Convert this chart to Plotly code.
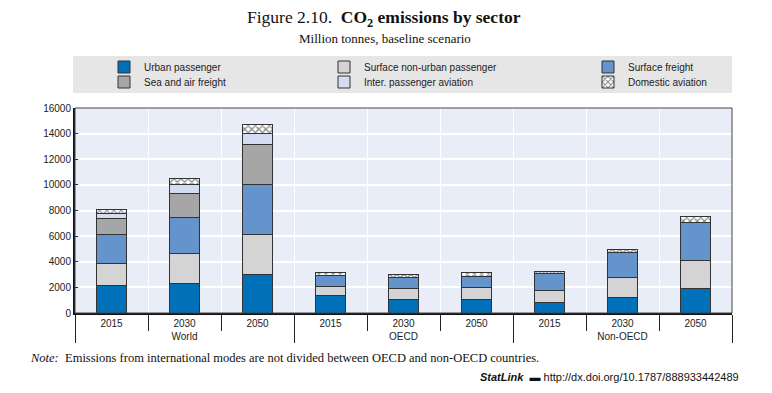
import plotly.graph_objects as go

groups = ["World"] * 3 + ["OECD"] * 3 + ["Non-OECD"] * 3
years = ["2015", "2030", "2050"] * 3

urban_passenger = [2170, 2300, 3000, 1360, 1050, 1040, 810, 1200, 1910]
surface_non_urban = [1690, 2350, 3140, 730, 860, 950, 970, 1540, 2210]
surface_freight = [2280, 2820, 3860, 860, 860, 880, 1300, 1950, 2950]
sea_air_freight = [1200, 1880, 3130, None, None, None, None, None, None]
inter_passenger_aviation = [440, 650, 870, None, None, None, None, None, None]
domestic_aviation = [310, 520, 700, 250, 250, 290, 180, 290, 440]

y_ticks = [0, 2000, 4000, 6000, 8000, 10000, 12000, 14000, 16000]

SANS = "Liberation Sans, Arial, sans-serif"
SERIF = "Liberation Serif, Times New Roman, serif"
LINE = dict(color="#333333", width=1)

W, H = 772, 393
L, R, T, B = 75, 40, 108, 80
pw, ph = W - L - R, H - T - B


def px(xp):
    return (xp - L) / pw


def py(yp):
    return (H - B - yp) / ph


# (name, values, colour, pattern, legend id, legend x px, legend y px)
series = [
    ("Urban passenger", urban_passenger, "#0070b8", None, "legend", 104, 67),
    ("Surface non-urban passenger", surface_non_urban, "#d4d4d4", None, "legend2", 324, 67),
    ("Surface freight", surface_freight, "#6593cc", None, "legend3", 588, 67),
    ("Sea and air freight", sea_air_freight, "#a6a6a6", None, "legend4", 104, 82),
    ("Inter. passenger aviation", inter_passenger_aviation, "#d3dcf0", None, "legend5", 324, 82),
    ("Domestic aviation", domestic_aviation, "#ffffff", "x", "legend6", 588, 82),
]

fig = go.Figure()
legends = {}
for name, vals, color, pattern, lg, lx, ly in series:
    marker = dict(color=color, line=LINE)
    if pattern:
        marker["pattern"] = dict(shape=pattern, fgcolor="#111111", bgcolor="#ffffff",
                                 size=5, solidity=0.45)
    fig.add_trace(go.Bar(x=[groups, years], y=vals, name=name, marker=marker, legend=lg))
    legends[lg] = dict(orientation="v", bgcolor="rgba(0,0,0,0)", yanchor="middle", xanchor="left",
                       x=px(lx), y=py(ly), font=dict(family=SANS, size=10, color="#222222"),
                       itemwidth=30)

fig.update_layout(
    width=W, height=H,
    margin=dict(l=L, r=R, t=T, b=B),
    paper_bgcolor="white",
    plot_bgcolor="#e9edf7",
    barmode="stack",
    bargap=0.59,
    showlegend=True,
    font=dict(family=SANS, size=10, color="#222222"),
    xaxis=dict(
        type="multicategory",
        tickson="boundaries",
        ticks="outside",
        ticklen=16,
        tickcolor="#222222",
        showdividers=True,
        dividercolor="#222222",
        dividerwidth=1,
        showgrid=True,
        gridcolor="white",
        gridwidth=1,
        showline=True,
        linecolor="#111111",
        linewidth=2,
        tickfont=dict(family=SANS, size=10, color="#222222"),
    ),
    yaxis=dict(
        range=[0, 16000],
        tickvals=y_ticks,
        ticktext=[str(v) for v in y_ticks],
        showgrid=True,
        gridcolor="white",
        gridwidth=1.5,
        zeroline=False,
        showline=True,
        linecolor="#111111",
        linewidth=2,
        ticks="inside",
        ticklen=3,
        tickcolor="#222222",
        tickfont=dict(family=SANS, size=10, color="#222222"),
    ),
    shapes=[
        dict(type="rect", xref="paper", yref="paper", x0=px(73), x1=px(732), y0=py(93), y1=py(56),
             fillcolor="#e6e6e6", line=dict(width=0), layer="below"),
        dict(type="rect", xref="paper", yref="paper", x0=0, x1=1, y0=0, y1=1,
             fillcolor="rgba(0,0,0,0)", line=dict(color="#444444", width=1), layer="above"),
    ],
    annotations=[
        dict(text="Figure 2.10.  <b>CO<sub>2</sub> emissions by sector</b>", xref="paper", yref="paper",
             x=px(384), y=py(18), xanchor="center", yanchor="middle", showarrow=False,
             font=dict(family=SERIF, size=17.5, color="#111111")),
        dict(text="Million tonnes, baseline scenario", xref="paper", yref="paper",
             x=px(385), y=py(39), xanchor="center", yanchor="middle", showarrow=False,
             font=dict(family=SERIF, size=13, color="#111111")),
        dict(text="<i>Note:</i>  Emissions from international modes are not divided between OECD and non-OECD countries.",
             xref="paper", yref="paper", x=px(28), y=py(358), xanchor="left", yanchor="middle",
             showarrow=False, font=dict(family=SERIF, size=12.5, color="#111111")),
        dict(text="<b><i>StatLink</i></b>  ▬ http://dx.doi.org/10.1787/888933442489",
             xref="paper", yref="paper", x=px(741), y=py(377), xanchor="right", yanchor="middle",
             showarrow=False, font=dict(family=SANS, size=11, color="#111111")),
    ],
)
fig.update_layout(**legends)

fig.write_html("out.html", config={"displayModeBar": False},
               post_script="document.body.style.margin='0';")
